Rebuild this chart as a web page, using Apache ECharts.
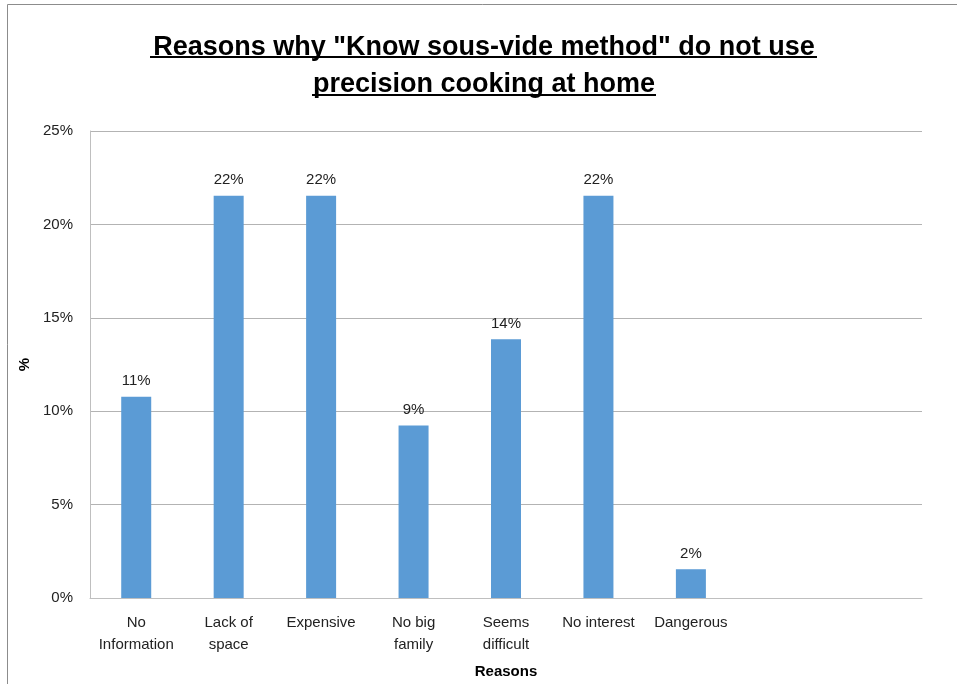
<!DOCTYPE html>
<html>
<head>
<meta charset="utf-8">
<script src="https://cdn.jsdelivr.net/npm/echarts@6/dist/echarts.min.js"></script>
<style>
html,body{margin:0;padding:0;background:#fff;}
#chart{width:957px;height:684px;}
</style>
</head>
<body>
<div id="chart"></div>
<script>
var categories = ["No\nInformation", "Lack of\nspace", "Expensive", "No big\nfamily", "Seems\ndifficult", "No interest", "Dangerous", "", ""];
var values = [10.77, 21.54, 21.54, 9.23, 13.85, 21.54, 1.54, null, null];
var yTicks = [0, 5, 10, 15, 20, 25];
var titleLines = ["Reasons why \"Know sous-vide method\" do not use", "precision cooking at home"];

var FONT = '"Liberation Sans", Arial, sans-serif';
var chart = echarts.init(document.getElementById('chart'));
chart.setOption({
  animation: false,
  backgroundColor: '#fff',
  title: {
    text: titleLines.join('\n'),
    left: 479,
    textAlign: 'center',
    top: 24,
    textStyle: {fontFamily: FONT, fontSize: 27, fontWeight: 'bold', color: '#000', lineHeight: 37}
  },
  graphic: [
    {type: 'line', shape: {x1: 7.5, y1: 4.5, x2: 957, y2: 4.5}, style: {stroke: '#8c8c8c', lineWidth: 1}},
    {type: 'line', shape: {x1: 7.5, y1: 4.5, x2: 7.5, y2: 684}, style: {stroke: '#8c8c8c', lineWidth: 1}},
    {type: 'line', shape: {x1: 150, y1: 57, x2: 817, y2: 57}, style: {stroke: '#000', lineWidth: 2}},
    {type: 'line', shape: {x1: 312, y1: 95, x2: 656, y2: 95}, style: {stroke: '#000', lineWidth: 2}}
  ],
  grid: {left: 90, right: 35, top: 131, bottom: 80, containLabel: false},
  xAxis: {
    type: 'category',
    data: categories,
    name: 'Reasons',
    nameLocation: 'middle',
    nameGap: 66,
    nameTextStyle: {fontFamily: FONT, fontSize: 15, fontWeight: 'bold', color: '#000'},
    axisLine: {lineStyle: {color: '#bfbfbf', width: 1}},
    axisTick: {show: false},
    axisLabel: {fontFamily: FONT, fontSize: 15, color: '#222', lineHeight: 22, margin: 14, interval: 0}
  },
  yAxis: {
    type: 'value',
    min: 0, max: 25, interval: 5,
    name: '%',
    nameLocation: 'middle',
    nameGap: 47,
    nameRotate: 90,
    nameTextStyle: {fontFamily: FONT, fontSize: 15, fontWeight: 'bold', color: '#000'},
    axisLine: {show: true, lineStyle: {color: '#bfbfbf'}},
    axisTick: {show: false},
    splitLine: {lineStyle: {color: '#b3b3b3', width: 1}},
    axisLabel: {fontFamily: FONT, fontSize: 15, color: '#222', margin: 17,
      formatter: function (v) { return yTicks.indexOf(v) >= 0 ? v + '%' : ''; }}
  },
  series: [{
    type: 'bar',
    data: values,
    barWidth: 30,
    itemStyle: {color: '#5b9bd5'},
    label: {
      show: true, position: 'top', distance: 8,
      fontFamily: FONT, fontSize: 15, color: '#222',
      formatter: function (p) { return p.value == null ? '' : Math.round(p.value) + '%'; }
    }
  }]
});
</script>
</body>
</html>
